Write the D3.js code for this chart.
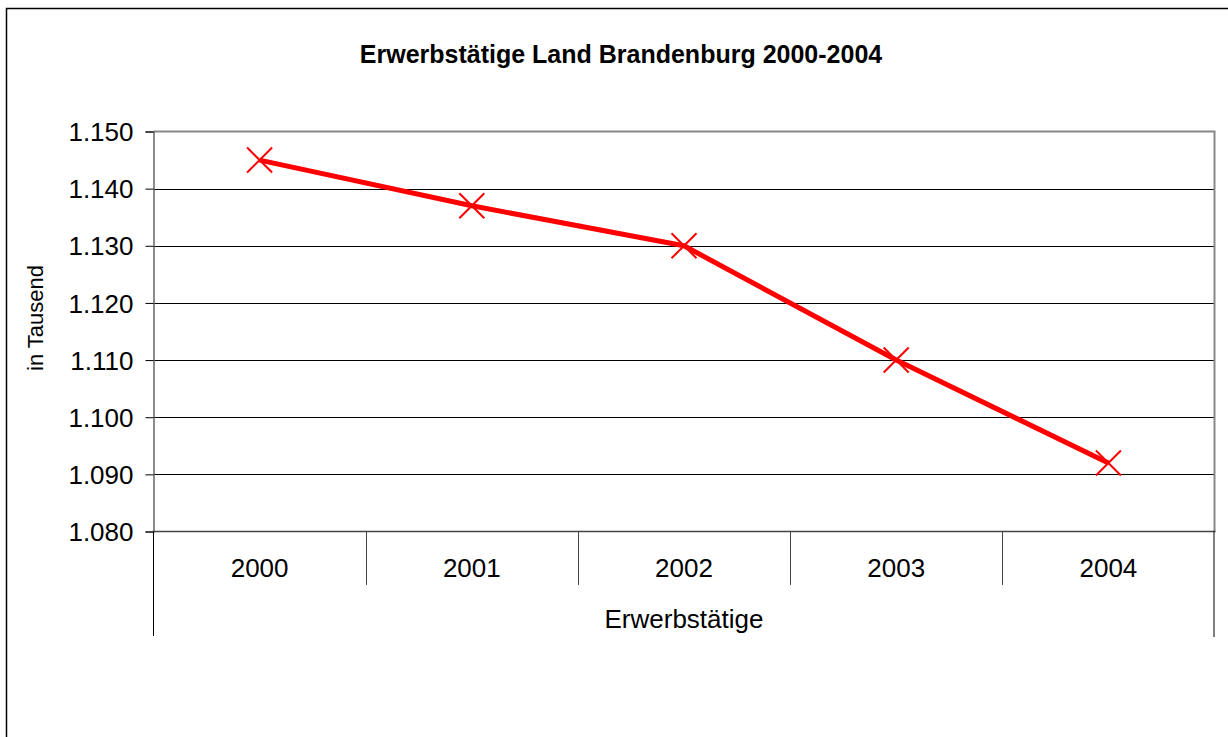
<!DOCTYPE html>
<html>
<head>
<meta charset="utf-8">
<script src="https://cdn.jsdelivr.net/npm/d3@7"></script>
<style>
  body { margin: 0; background: #fff; }
  text { font-family: "Liberation Sans", Arial, sans-serif; fill: #000; }
</style>
</head>
<body>
<svg></svg>
<script>
const years = ['2000', '2001', '2002', '2003', '2004'];
const values = [1145, 1137, 1130, 1110, 1092];
const yTicks = [1080, 1090, 1100, 1110, 1120, 1130, 1140, 1150];
const title = 'Erwerbstätige Land Brandenburg 2000-2004';
const yLabel = 'in Tausend';
const xLabel = 'Erwerbstätige';

const width = 1228, height = 737;
const plotLeft = 153.5, plotRight = 1214.5, plotTop = 131.5, plotBottom = 531.5;

let svg = d3.select('svg')
  .attr('width', width)
  .attr('height', height);

// outer chart frame (runs off right and bottom edges)
svg.append('rect')
  .attr('x', 6.5).attr('y', 8.5)
  .attr('width', 1240).attr('height', 760)
  .attr('fill', '#fff')
  .attr('stroke', '#000')
  .attr('stroke-width', 1.5);

let x = d3.scaleBand().domain(years).range([plotLeft, plotRight]);
let y = d3.scaleLinear().domain([1080, 1150]).range([plotBottom, plotTop]);

// gridlines
svg.append('g')
  .selectAll('line')
  .data(yTicks.slice(1, -1))
  .join('line')
  .attr('x1', plotLeft).attr('x2', plotRight)
  .attr('y1', d => Math.round(y(d)) + 0.5)
  .attr('y2', d => Math.round(y(d)) + 0.5)
  .attr('stroke', '#000')
  .attr('stroke-width', 1);

// plot frame: top and right gray
svg.append('path')
  .attr('d', `M${plotLeft},${plotTop}H${plotRight}V${plotBottom}`)
  .attr('fill', 'none')
  .attr('stroke', '#888')
  .attr('stroke-width', 2);

// y axis
let yAxis = svg.append('g')
  .attr('transform', `translate(${plotLeft},0)`)
  .call(d3.axisLeft(y).tickValues(yTicks).tickSize(8).tickPadding(12)
    .tickFormat(d => d3.format('.3f')(d / 1000)));
yAxis.select('.domain').attr('stroke', '#666').attr('stroke-width', 1.5);
yAxis.selectAll('.tick line').attr('stroke', '#000');
yAxis.selectAll('.tick text')
  .style('font-size', '26px')
  .attr('font-family', null)
  .attr('dy', '0.35em');

// bottom axis line
svg.append('line')
  .attr('x1', plotLeft - 1).attr('x2', plotRight + 1)
  .attr('y1', plotBottom).attr('y2', plotBottom)
  .attr('stroke', '#444')
  .attr('stroke-width', 1.5);

// category separators (table style)
let bounds = years.slice(1).map(d => x(d));
svg.append('g')
  .selectAll('line')
  .data(bounds)
  .join('line')
  .attr('x1', d => Math.round(d) + 0.5).attr('x2', d => Math.round(d) + 0.5)
  .attr('y1', plotBottom).attr('y2', 585)
  .attr('stroke', '#444');

svg.append('line')
  .attr('x1', plotLeft).attr('x2', plotLeft)
  .attr('y1', plotBottom).attr('y2', 636)
  .attr('stroke', '#000');
svg.append('line')
  .attr('x1', plotRight - 0.5).attr('x2', plotRight - 0.5)
  .attr('y1', plotBottom).attr('y2', 637)
  .attr('stroke', '#000');

// year labels
svg.append('g')
  .selectAll('text')
  .data(years)
  .join('text')
  .attr('x', d => x(d) + x.bandwidth() / 2)
  .attr('y', 577)
  .attr('text-anchor', 'middle')
  .style('font-size', '26px')
  .text(d => d);

svg.append('text')
  .attr('x', (plotLeft + plotRight) / 2)
  .attr('y', 628)
  .attr('text-anchor', 'middle')
  .style('font-size', '26px')
  .text(xLabel);

// title
svg.append('text')
  .attr('x', 621)
  .attr('y', 63)
  .attr('text-anchor', 'middle')
  .style('font-size', '25px')
  .style('font-weight', 'bold')
  .text(title);

// y label
svg.append('text')
  .attr('transform', 'translate(43,318) rotate(-90)')
  .attr('text-anchor', 'middle')
  .style('font-size', '22px')
  .text(yLabel);

// line
let lineGenerator = d3.line()
  .x((d, i) => x(years[i]) + x.bandwidth() / 2)
  .y(d => y(d));

svg.append('path')
  .attr('d', lineGenerator(values))
  .attr('fill', 'none')
  .attr('stroke', '#ff0000')
  .attr('stroke-width', 5)
  .attr('stroke-linejoin', 'round');

// X markers
let s = 12.5;
svg.append('g')
  .selectAll('path')
  .data(values)
  .join('path')
  .attr('d', (d, i) => {
    let cx = x(years[i]) + x.bandwidth() / 2, cy = y(d);
    return `M${cx - s},${cy - s}L${cx + s},${cy + s}M${cx - s},${cy + s}L${cx + s},${cy - s}`;
  })
  .attr('stroke', '#ff0000')
  .attr('stroke-width', 2)
  .attr('fill', 'none');
</script>
</body>
</html>
